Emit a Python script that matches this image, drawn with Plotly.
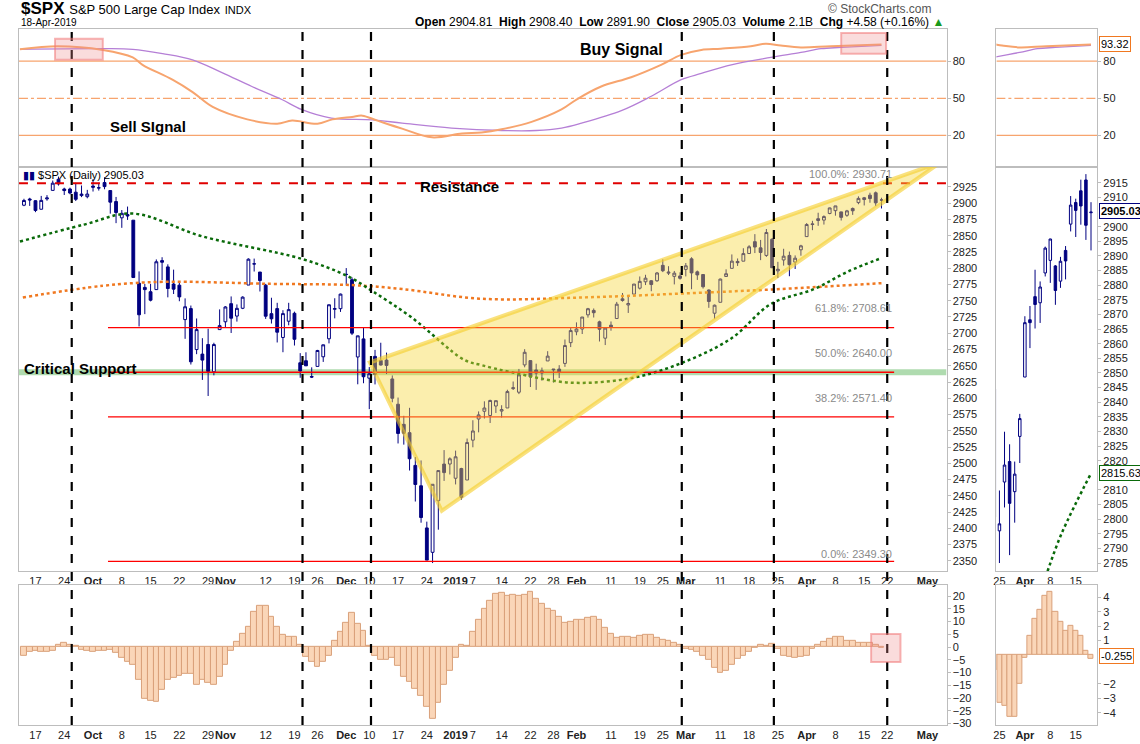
import plotly.graph_objects as go

# ---------------- DATA ----------------
dates = ["2018-09-13","2018-09-14","2018-09-17","2018-09-18","2018-09-19","2018-09-20","2018-09-21","2018-09-24","2018-09-25","2018-09-26","2018-09-27","2018-09-28",
"2018-10-01","2018-10-02","2018-10-03","2018-10-04","2018-10-05","2018-10-08","2018-10-09","2018-10-10","2018-10-11","2018-10-12","2018-10-15","2018-10-16","2018-10-17","2018-10-18","2018-10-19","2018-10-22","2018-10-23","2018-10-24","2018-10-25","2018-10-26","2018-10-29","2018-10-30","2018-10-31",
"2018-11-01","2018-11-02","2018-11-05","2018-11-06","2018-11-07","2018-11-08","2018-11-09","2018-11-12","2018-11-13","2018-11-14","2018-11-15","2018-11-16","2018-11-19","2018-11-20","2018-11-21","2018-11-23","2018-11-26","2018-11-27","2018-11-28","2018-11-29","2018-11-30",
"2018-12-03","2018-12-04","2018-12-06","2018-12-07","2018-12-10","2018-12-11","2018-12-12","2018-12-13","2018-12-14","2018-12-17","2018-12-18","2018-12-19","2018-12-20","2018-12-21","2018-12-24","2018-12-26","2018-12-27","2018-12-28","2018-12-31",
"2019-01-02","2019-01-03","2019-01-04","2019-01-07","2019-01-08","2019-01-09","2019-01-10","2019-01-11","2019-01-14","2019-01-15","2019-01-16","2019-01-17","2019-01-18","2019-01-22","2019-01-23","2019-01-24","2019-01-25","2019-01-28","2019-01-29","2019-01-30","2019-01-31",
"2019-02-01","2019-02-04","2019-02-05","2019-02-06","2019-02-07","2019-02-08","2019-02-11","2019-02-12","2019-02-13","2019-02-14","2019-02-15","2019-02-19","2019-02-20","2019-02-21","2019-02-22","2019-02-25","2019-02-26","2019-02-27","2019-02-28",
"2019-03-01","2019-03-04","2019-03-05","2019-03-06","2019-03-07","2019-03-08","2019-03-11","2019-03-12","2019-03-13","2019-03-14","2019-03-15","2019-03-18","2019-03-19","2019-03-20","2019-03-21","2019-03-22","2019-03-25","2019-03-26","2019-03-27","2019-03-28","2019-03-29",
"2019-04-01","2019-04-02","2019-04-03","2019-04-04","2019-04-05","2019-04-08","2019-04-09","2019-04-10","2019-04-11","2019-04-12","2019-04-15","2019-04-16","2019-04-17","2019-04-18"]

opens = [2896.9,2906.4,2903.8,2890.7,2906.6,2919.7,2936.8,2921.8,2921.8,2916.9,2911.7,2910.0,
2926.3,2923.8,2931.7,2919.4,2902.5,2877.5,2882.5,2873.9,2776.9,2770.5,2763.8,2767.1,2811.7,2802.0,2775.7,2773.9,2721.0,2737.9,2674.9,2667.9,2682.7,2640.7,2705.6,
2717.6,2745.5,2726.4,2738.4,2774.1,2806.4,2794.1,2773.9,2730.1,2737.9,2693.5,2718.5,2730.7,2654.6,2657.7,2633.4,2649.0,2663.8,2691.5,2736.9,2737.8,
2790.5,2782.4,2663.5,2691.3,2630.9,2664.4,2658.2,2658.7,2629.7,2590.8,2559.9,2547.1,2496.8,2465.4,2400.6,2363.1,2442.5,2498.8,2498.9,
2477.0,2491.9,2474.3,2535.6,2568.1,2580.0,2573.5,2588.1,2580.3,2585.1,2614.8,2609.3,2651.3,2657.9,2643.5,2638.8,2657.4,2645.0,2644.9,2653.6,2685.5,
2702.3,2706.5,2728.3,2735.1,2717.5,2692.4,2712.4,2722.6,2750.3,2743.5,2760.2,2769.3,2779.1,2780.7,2780.7,2804.4,2792.4,2787.5,2788.1,
2798.2,2814.4,2794.4,2790.3,2766.5,2730.8,2747.6,2787.3,2799.8,2810.4,2810.8,2822.6,2840.8,2831.3,2819.7,2844.5,2796.0,2812.7,2819.7,2809.4,2828.3,
2848.6,2868.2,2876.1,2874.0,2884.2,2888.5,2886.6,2881.4,2891.9,2900.9,2908.3,2912.3,2916.0,2904.8]
highs = [2906.8,2908.3,2904.6,2911.2,2912.4,2934.8,2940.9,2923.8,2923.9,2931.2,2927.2,2920.5,
2937.1,2931.4,2939.9,2919.8,2909.6,2889.5,2894.8,2874.0,2795.1,2775.8,2775.9,2813.5,2816.9,2806.0,2797.8,2778.9,2753.6,2742.6,2722.7,2692.4,2706.9,2685.4,2736.7,
2741.7,2756.6,2744.3,2756.8,2815.2,2814.8,2794.1,2775.9,2754.6,2746.8,2735.4,2746.8,2733.2,2669.4,2670.7,2647.6,2674.4,2682.5,2744.0,2753.8,2760.9,
2800.2,2785.9,2696.2,2708.5,2648.0,2674.4,2685.4,2670.2,2635.1,2601.1,2573.0,2585.3,2509.6,2504.4,2410.3,2467.8,2489.1,2520.3,2509.2,
2519.5,2493.1,2538.1,2566.2,2579.8,2595.3,2597.8,2596.3,2589.3,2613.1,2625.8,2645.1,2675.5,2657.9,2653.2,2647.2,2672.4,2645.0,2650.9,2690.4,2708.0,
2716.7,2725.0,2739.0,2738.1,2719.3,2708.1,2718.1,2748.2,2761.9,2757.9,2775.7,2787.3,2789.9,2781.6,2794.2,2813.5,2803.1,2795.8,2793.7,
2808.0,2816.9,2796.4,2790.3,2767.3,2744.1,2784.0,2798.3,2821.2,2815.0,2830.7,2835.4,2852.4,2843.5,2860.3,2846.2,2809.8,2829.9,2825.6,2819.7,2836.0,
2869.4,2872.9,2885.3,2881.3,2893.2,2895.9,2886.9,2889.7,2893.4,2910.5,2909.6,2916.1,2918.0,2908.4]
lows = [2895.4,2895.8,2886.2,2890.4,2903.8,2919.7,2927.1,2912.6,2913.7,2903.3,2909.3,2907.5,
2917.9,2919.4,2921.4,2883.9,2869.3,2862.1,2874.3,2784.9,2710.5,2729.4,2749.0,2766.9,2781.8,2755.2,2760.3,2749.2,2691.4,2651.9,2667.8,2628.2,2603.5,2635.3,2705.6,
2708.9,2700.4,2717.9,2737.1,2774.1,2794.9,2764.2,2722.0,2714.9,2685.8,2670.8,2712.2,2681.1,2631.5,2649.8,2631.1,2649.0,2655.9,2684.4,2722.9,2732.8,
2773.4,2697.2,2621.5,2623.1,2583.2,2621.3,2650.3,2637.3,2593.8,2530.5,2528.7,2488.9,2441.2,2408.6,2351.1,2346.6,2397.9,2472.9,2482.8,
2467.5,2444.0,2474.3,2524.6,2547.6,2568.9,2562.0,2577.4,2570.4,2585.1,2612.7,2606.4,2647.6,2617.3,2612.9,2627.0,2657.3,2624.1,2631.1,2648.3,2678.7,
2696.9,2698.8,2724.0,2724.2,2687.3,2681.8,2703.9,2722.6,2748.6,2731.2,2760.2,2767.3,2774.1,2764.6,2779.1,2794.0,2789.5,2775.1,2782.5,
2787.4,2767.7,2782.0,2768.7,2739.1,2722.3,2747.6,2786.7,2799.8,2803.5,2810.8,2822.0,2823.3,2812.4,2817.4,2800.5,2785.0,2804.0,2787.7,2798.8,2819.2,
2848.6,2858.5,2865.2,2867.1,2883.0,2880.8,2873.3,2879.1,2882.0,2898.4,2896.5,2900.7,2895.5,2891.9]
closes = [2904.2,2905.0,2888.8,2904.3,2908.0,2930.8,2929.7,2919.4,2915.6,2906.0,2914.0,2914.0,
2924.6,2923.4,2925.5,2901.6,2885.6,2884.4,2880.3,2785.7,2728.4,2767.1,2750.8,2809.9,2809.2,2768.8,2767.8,2755.9,2740.7,2656.1,2705.6,2658.7,2641.3,2682.6,2711.7,
2740.4,2723.1,2738.3,2755.5,2813.9,2806.8,2781.0,2726.2,2722.2,2701.6,2730.2,2736.3,2690.7,2641.9,2649.9,2632.6,2673.5,2682.2,2743.8,2737.8,2760.2,
2790.4,2700.1,2696.0,2633.1,2637.7,2636.8,2651.1,2650.5,2600.0,2545.9,2546.2,2507.0,2467.4,2416.6,2351.1,2467.7,2488.8,2485.7,2506.9,
2510.0,2447.9,2531.9,2549.7,2574.4,2585.0,2596.6,2596.3,2582.6,2610.3,2616.1,2636.0,2670.7,2632.9,2638.7,2642.3,2664.8,2643.9,2640.0,2681.1,2704.1,
2706.5,2724.9,2737.7,2731.6,2706.1,2707.9,2709.8,2744.7,2753.0,2745.7,2775.6,2779.8,2784.7,2774.9,2792.7,2796.1,2793.9,2792.4,2784.5,
2803.7,2792.8,2789.7,2771.5,2748.9,2743.1,2783.3,2791.5,2810.9,2808.5,2822.5,2832.9,2832.6,2824.2,2854.9,2800.7,2798.4,2818.5,2805.4,2815.4,2834.4,
2867.2,2867.2,2873.4,2879.4,2892.7,2895.8,2878.2,2888.2,2888.3,2907.4,2905.6,2907.1,2900.5,2905.0]

# bottom indicator (histogram), one value per day
hist = [-3.3,-2,-1.3,-2,-1.7,-1.3,0.7,1.6,1,0.3,-0.9,-1.3,-1.7,-1.3,-1.3,-1,-2.4,-4.3,-5.9,-6.8,-13,-20.3,-21,-21.3,-16.6,-12.7,-12.2,-11.1,-10.5,-10.5,
-14.8,-13,-14.1,-15,-11.8,-6.9,-1.3,2,5,8.1,13.7,16.3,16,11.8,8.1,4.6,4.2,4.2,1,-3.7,-5.6,-7.6,-5.6,-3.3,2.6,5.8,9.4,13.3,9.2,6.3,
0.3,-3.3,-5.2,-5.2,-4.3,-7.2,-11.5,-13.5,-16.3,-19.3,-23.3,-28.1,-22,-14.8,-9.4,-4.2,0.7,0.3,5.9,10.5,15,
18.3,20.7,21.2,19.9,20.3,20,20.3,21.8,19,17,15,14.4,12,9.4,9.8,10.8,10.8,11.5,12,10.8,7.6,5.2,3.7,3.9,4.2,3.5,4.3,4.6,4.6,3.5,3,2.6,1.7,0.7,
-0.7,-1,-2,-3.3,-5.2,-8.1,-10.2,-9.4,-6.8,-4.6,-3.5,-2,-0.4,0.7,0.3,1.3,-0.7,-3.3,-3.7,-4.2,-3.9,-3.3,-0.7,1,2.2,3.3,3.9,4.2,2.6,2.4,1.6,1.7,1.6,0.7,-0.255]

# short-window histogram for the zoom panel (Mar 22 - Apr 18)
mini_hist = [-1,-3.3,-3.5,-4.3,-4.3,-2,-0.2,1.3,2.5,3.1,4.1,4.4,3,2.3,1.7,2,1.7,1.3,0.3,-0.255]

# moving averages (sampled, day index / value)
ma50_x = [-0.7,10.4,18.9,31,48.4,56.2,60.5,67.4,76.5,79.5,84.7,95.1,105.5,114.2,122.9,129.8,137.3,143.2,149]
ma50_y = [2841,2867,2884,2849,2814,2788,2765,2724,2659,2651,2640,2624,2631,2654,2692,2745,2768,2795,2815.63]
ma200_x = [-0.2,13.7,24.1,42.6,57,65.7,79.5,96.9,114.2,131.5,149]
ma200_y = [2755,2773,2779,2776,2774,2768,2753,2755,2761,2768,2777]

# top-panel oscillator lines (sampled)
osc_x = [-0.7,5.9,13.7,18.9,20.6,25.8,29.3,32.8,38.8,44,46.6,51,53.6,57,58.8,61.4,65.7,70.9,76.1,79.5,83,88.2,93.4,96,100.3,105.5,110.7,114.2,117.7,121.1,126.3,128.9,131.5,135,140.2,149]
osc_orange = [89.5,92,89,83,77,65,55,43,33,29.5,32,29.5,33,35,36,32,25.5,18.5,21.6,22.4,25,31,41,49,59.5,67,77,85,89,90,92,94,92.5,91,92,93.32]
sig_x = [-0.7,13.7,18.9,24.1,29.3,34.5,39.6,44.8,48.2,53.4,60.5,65.7,74.3,83,89,93.4,96.9,103.8,109,114.2,117.7,122.9,129.8,135,138.5,142,149]
sig_purple = [89.5,90,89.5,86,81,70.5,59.5,49,41,34,32.6,30,26,24,24,26,30,40,51.6,65,70,77,83,87,90,91,92.6]

tick_idx = [2,7,12,17,22,27,32,35,42,47,51,56,60,65,70,75,78,83,88,92,96,102,107,111,115,121,126,131,136,141,146,150,157]
tick_txt = ["17","24","<b>Oct</b>","8","15","22","29","<b>Nov</b>","12","19","26","<b>Dec</b>","10","17","24","<b>2019</b>","7","14","22","28",
            "<b>Feb</b>","11","19","25","<b>Mar</b>","11","18","25","<b>Apr</b>","8","15","22","<b>May</b>"]
mini_tick_idx = [131,136,141,146]
mini_tick_txt = ["25","<b>Apr</b>","8","15"]
mini_price_ticks = [2785,2790,2795,2800,2805,2810,2820,2825,2830,2835,2840,2845,2850,2855,2860,2865,2870,2875,2880,2885,2890,2895,2900,2910,2915]
mini_hist_ticks = [-4,-3,-2,1,2,3,4]

fib_levels = [2930.71, 2708.61, 2640.00, 2571.40, 2349.30]
fib_names = ["100.0%","61.8%","50.0%","38.2%","0.0%"]
signal_lines = [8.3, 48.4, 60.3, 114.3, 130.3, 150]

# ---------------- FIGURE ----------------
W, H = 1140, 744
def px(v): return v / W
def py(v): return 1 - v / H

idx = list(range(len(closes)))
FONT = "Liberation Sans"
NAVY = "#000080"
fig = go.Figure()

XMAIN = [-0.87, 160.3]
XMINI = [130.4, 150.2]
dom_main = [px(16), px(946)]
dom_mini = [px(996), px(1097)]
dom_top = [py(168), py(29)]
dom_mid = [py(574), py(168)]
dom_bot = [py(729), py(588)]

for xa, ya in [("x", "y"), ("x4", "y4")]:
    fig.add_trace(go.Scatter(x=sig_x, y=sig_purple, mode="lines", line=dict(color="#b57fd6", width=1.3, shape="spline"),
                             xaxis=xa, yaxis=ya, showlegend=False, hoverinfo="skip"))
    fig.add_trace(go.Scatter(x=osc_x, y=osc_orange, mode="lines", line=dict(color="#f7a46e", width=2, shape="spline"),
                             xaxis=xa, yaxis=ya, showlegend=False, hoverinfo="skip"))

for xa, ya in [("x2", "y2"), ("x5", "y5")]:
    fig.add_trace(go.Scatter(x=ma200_x, y=ma200_y, mode="lines", line=dict(color="#f07820", width=2.5, dash="dot", shape="spline"),
                             xaxis=xa, yaxis=ya, showlegend=False, hoverinfo="skip"))
    fig.add_trace(go.Scatter(x=ma50_x, y=ma50_y, mode="lines", line=dict(color="#0a6a0a", width=2.5, dash="dot", shape="spline"),
                             xaxis=xa, yaxis=ya, showlegend=False, hoverinfo="skip"))
    fig.add_trace(go.Candlestick(x=idx, open=opens, high=highs, low=lows, close=closes,
                                 increasing=dict(line=dict(color=NAVY, width=1), fillcolor="white"),
                                 decreasing=dict(line=dict(color=NAVY, width=1), fillcolor=NAVY),
                                 whiskerwidth=0, xaxis=xa, yaxis=ya, showlegend=False))

fig.add_trace(go.Bar(x=idx, y=hist, width=1, marker=dict(color="#fad6b8", line=dict(color="#d9a07a", width=1)),
                     xaxis="x3", yaxis="y3", showlegend=False))
fig.add_trace(go.Bar(x=idx[-len(mini_hist):], y=mini_hist, width=1, marker=dict(color="#fad6b8", line=dict(color="#d9a07a", width=1)),
                     xaxis="x6", yaxis="y6", showlegend=False))

axfont = dict(family=FONT, size=11, color="#222")
common_x = dict(showgrid=False, zeroline=False, showline=True, mirror=True, linecolor="#bdbdbd", ticks="", tickangle=0)
common_y = dict(showgrid=False, zeroline=False, showline=True, mirror=True, linecolor="#bdbdbd", side="right",
                ticks="outside", ticklen=3, tickcolor="#bdbdbd", tickfont=axfont)

fig.update_layout(
    width=W, height=H, margin=dict(l=0, r=0, t=0, b=0), paper_bgcolor="white", plot_bgcolor="white",
    bargap=0, showlegend=False,
    xaxis=dict(domain=dom_main, range=XMAIN, anchor="y", showticklabels=False, **common_x),
    xaxis2=dict(domain=dom_main, range=XMAIN, anchor="y2", tickvals=tick_idx, ticktext=tick_txt, tickfont=axfont,
                rangeslider=dict(visible=False), **common_x),
    xaxis3=dict(domain=dom_main, range=XMAIN, anchor="y3", tickvals=tick_idx, ticktext=tick_txt, tickfont=axfont, **common_x),
    xaxis4=dict(domain=dom_mini, range=XMINI, anchor="y4", showticklabels=False, **common_x),
    xaxis5=dict(domain=dom_mini, range=XMINI, anchor="y5", tickvals=mini_tick_idx, ticktext=mini_tick_txt, tickfont=axfont,
                rangeslider=dict(visible=False), **common_x),
    xaxis6=dict(domain=dom_mini, range=XMINI, anchor="y6", tickvals=mini_tick_idx, ticktext=mini_tick_txt, tickfont=axfont, **common_x),
    yaxis=dict(domain=dom_top, range=[-5.5, 106], anchor="x", tickvals=[20, 50, 80], **common_y),
    yaxis2=dict(domain=dom_mid, range=[2334.5, 2955.5], anchor="x2", tickvals=list(range(2350, 2950, 25)), **common_y),
    yaxis3=dict(domain=dom_bot, range=[-30.6, 24.4], anchor="x3", dtick=5, **common_y),
    yaxis4=dict(domain=dom_top, range=[-5.5, 106], anchor="x4", tickvals=[20, 50, 80], **common_y),
    yaxis5=dict(domain=dom_mid, range=[2782.3, 2920.4], anchor="x5", tickvals=mini_price_ticks, **common_y),
    yaxis6=dict(domain=dom_bot, range=[-4.86, 4.86], anchor="x6", tickvals=mini_hist_ticks, **common_y),
    font=dict(family=FONT),
)

shapes = []
for xr, yr, xr0, xr1 in [("x", "y", XMAIN[0], XMAIN[1]), ("x4", "y4", XMINI[0], XMINI[1])]:
    for lvl, dash in [(80, "solid"), (20, "solid"), (50, "dashdot")]:
        shapes.append(dict(type="line", xref=xr, yref=yr, x0=xr0, x1=xr1, y0=lvl, y1=lvl,
                           line=dict(color="#f7a46e", width=1.2, dash=dash), layer="below"))
shapes.append(dict(type="line", xref="x2", yref="y2", x0=XMAIN[0], x1=XMAIN[1], y0=2640, y1=2640,
                   line=dict(color="rgba(110,190,110,0.55)", width=6), layer="below"))
shapes.append(dict(type="line", xref="x2", yref="y2", x0=XMAIN[0], x1=XMAIN[1], y0=fib_levels[0], y1=fib_levels[0],
                   line=dict(color="#e00000", width=2, dash="dash")))
for lv in fib_levels[1:]:
    shapes.append(dict(type="line", xref="x2", yref="y2", x0=14.6, x1=151.2, y0=lv, y1=lv, line=dict(color="#ff0000", width=1.3)))
shapes.append(dict(type="path", xref="x2", yref="y2",
                   path="M 60.1,2655 L 159.3,2963 L 72.6,2427 Z",
                   fillcolor="rgba(245,215,60,0.42)", line=dict(color="rgba(245,205,40,0.6)", width=4)))
for sx in signal_lines:
    shapes.append(dict(type="line", xref="x2", yref="paper", x0=sx, x1=sx, y0=py(729), y1=py(29),
                       line=dict(color="black", width=2.2, dash="dash")))
for xr, yr, x0, x1, y0, y1 in [("x", "y", 5.4, 13.7, 81, 98), ("x", "y", 142, 149.8, 86, 102.6), ("x3", "y3", 147.2, 152.3, -5.9, 5.1)]:
    shapes.append(dict(type="rect", xref=xr, yref=yr, x0=x0, x1=x1, y0=y0, y1=y1,
                       fillcolor="rgba(240,140,140,0.3)", line=dict(color="rgba(240,120,120,0.55)", width=2)))
fig.update_layout(shapes=shapes)

ann = []
def text(x, y, s, size=11, color="#000", xanchor="left", bold=False, yanchor="middle"):
    ann.append(dict(xref="paper", yref="paper", x=px(x), y=py(y), text=("<b>%s</b>" % s if bold else s), showarrow=False,
                    xanchor=xanchor, yanchor=yanchor, font=dict(family=FONT, size=size, color=color)))

text(16, 9, "<b>$SPX</b> <span style='font-size:13px'>S&P 500 Large Cap Index</span> <span style='font-size:11px'>INDX</span>", size=17)
text(16, 23, "18-Apr-2019", size=10)
text(945, 22, "<b>Open</b> 2904.81  <b>High</b> 2908.40  <b>Low</b> 2891.90  <b>Close</b> 2905.03  <b>Volume</b> 2.1B  <b>Chg</b> +4.58 (+0.16%) <span style='color:#1a9a1a'>▲</span>",
     size=12, xanchor="right")
text(933, 9, "© StockCharts.com", size=12, color="#555", xanchor="right")
text(18, 176, "<span style='color:#000080'>▮▮</span> $SPX (Daily) 2905.03", size=11)
text(105, 127, "Sell SIgnal", size=15, bold=True)
text(577, 50, "Buy Signal", size=16, bold=True)
text(416, 188, "Resistance", size=15, bold=True)
text(19, 370, "Critical Support", size=15, bold=True)
fib_y = [175, 310, 355, 400, 557]
for nm, lv, yy in zip(fib_names, fib_levels, fib_y):
    text(893, yy, "%s: %.2f" % (nm, lv), size=11, color="#8a8a8a", xanchor="right")

def box(x, y, s, col, bold=False):
    ann.append(dict(xref="paper", yref="paper", x=px(x), y=py(y), text=("<b>%s</b>" % s if bold else s), showarrow=False,
                    xanchor="left", yanchor="middle", bgcolor="white", bordercolor=col, borderwidth=1, borderpad=1,
                    font=dict(family=FONT, size=11, color="#000")))
box(1099, 44, "93.32", "#f07820")
box(1099, 212, "2905.03", NAVY, bold=True)
box(1099, 476, "2815.63", "#0a6a0a")
box(1099, 660, "-0.255", "#f07820")
fig.update_layout(annotations=ann)

fig.write_html("out.html", config={"displayModeBar": False})
# remove the default page margin so the figure sits at the window's top-left corner
with open("out.html", encoding="utf-8") as f:
    html = f.read()
html = html.replace("<head>", "<head><style>html,body{margin:0;padding:0;overflow:hidden;}</style>", 1)
with open("out.html", "w", encoding="utf-8") as f:
    f.write(html)
